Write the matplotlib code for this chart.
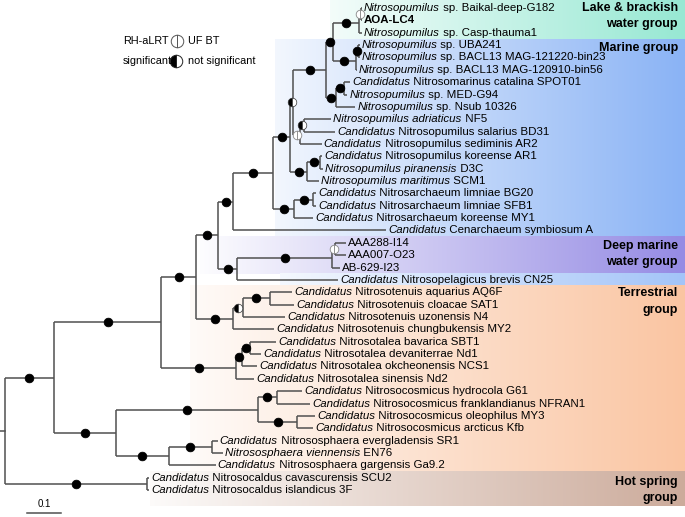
import matplotlib
matplotlib.use("Agg")
import matplotlib.pyplot as plt
import numpy as np
from matplotlib.colors import to_rgb

# ---------------- data ----------------
leaf_italic = [
    "Nitrosopumilus", "", "Nitrosopumilus", "Nitrosopumilus", "Nitrosopumilus",
    "Nitrosopumilus", "Candidatus", "Nitrosopumilus", "Nitrosopumilus",
    "Nitrosopumilus adriaticus", "Candidatus", "Candidatus", "Candidatus",
    "Nitrosopumilus piranensis", "Nitrosopumilus maritimus", "Candidatus",
    "Candidatus", "Candidatus", "Candidatus", "", "", "", "Candidatus",
    "Candidatus", "Candidatus", "Candidatus", "Candidatus", "Candidatus",
    "Candidatus", "Candidatus", "Candidatus", "Candidatus", "Candidatus",
    "Candidatus", "Candidatus", "Candidatus", "Nitrososphaera viennensis",
    "Candidatus", "Candidatus", "Candidatus",
]
leaf_plain = [
    " sp. Baikal-deep-G182", "AOA-LC4", " sp. Casp-thauma1", " sp. UBA241",
    " sp. BACL13 MAG-121220-bin23", " sp. BACL13 MAG-120910-bin56",
    " Nitrosomarinus catalina SPOT01", " sp. MED-G94", " sp. Nsub 10326",
    " NF5", " Nitrosopumilus salarius BD31", " Nitrosopumilus sediminis AR2",
    " Nitrosopumilus koreense AR1", " D3C", " SCM1",
    " Nitrosarchaeum limniae BG20", " Nitrosarchaeum limniae SFB1",
    " Nitrosarchaeum koreense MY1", " Cenarchaeum symbiosum A",
    "AAA288-I14", "AAA007-O23", "AB-629-I23", " Nitrosopelagicus brevis CN25",
    " Nitrosotenuis aquarius AQ6F", " Nitrosotenuis cloacae SAT1",
    " Nitrosotenuis uzonensis N4", " Nitrosotenuis chungbukensis MY2",
    " Nitrosotalea bavarica SBT1", " Nitrosotalea devaniterrae Nd1",
    " Nitrosotalea okcheonensis NCS1", " Nitrosotalea sinensis Nd2",
    " Nitrosocosmicus hydrocola G61", " Nitrosocosmicus franklandianus NFRAN1",
    " Nitrosocosmicus oleophilus MY3", " Nitrosocosmicus arcticus Kfb",
    " Nitrososphaera evergladensis SR1", " EN76",
    " Nitrososphaera gargensis Ga9.2", " Nitrosocaldus cavascurensis SCU2",
    " Nitrosocaldus islandicus 3F",
]
leaf_bold = [1]

# tree (leaf index:branch length), support codes:
# f = both significant, h = RH-aLRT only, o = neither
L2 = "(0:0.003,1:0.003)o:0.006"
L1 = f"({L2},2:0.009)f:0.074"
U2 = "(3:0.006,4:0.006)f:0.006"
U1 = f"({U2},5:0.003)f:0.065"
Hn = f"({L1},{U1})f:0.021"
C2 = "(6:0.018,7:0.009)f:0.024"
C1 = f"({C2},8:0.056)f:0.029"
G = f"({Hn},{C1})f:0.097"
S2 = "(9:0.082,10:0.094)h:0.009"
S1 = f"({S2},11:0.062)o:0.021"
Q = f"({G},{S1})h:0.009"
K2 = "(12:0.006,13:0.009)f:0.038"
K1 = f"({K2},14:0.035)f:0.050"
P = f"({Q},{K1})f:0.050"
N2 = "(15:0.009,16:0.009)f:0.056"
N1 = f"({N2},17:0.056)f:0.062"
F = f"({P},{N1})f:0.118"
E = f"({F},18:0.450)f:0.044"
DM3 = "(19:0.032,20:0.032)o:0.009"
DM2 = f"({DM3},21:0.024)f:0.279"
DM1 = f"({DM2},22:0.297)f:0.056"
D = f"({E},{DM1})f:0.065"
T3 = "(23:0.065,24:0.071)f:0.079"
T2 = f"({T3},25:0.124)h:0.029"
T1 = f"({T2},26:0.121)f:0.109"
C = f"({D},{T1})f:0.103"
TA3 = "(27:0.076,28:0.032)f:0.024"
TA2 = f"({TA3},29:0.044)f:0.018"
TA1 = f"({TA2},30:0.053)f:0.221"
B = f"({C},{TA1})f:0.315"
NC2 = "(31:0.074,32:0.097)f:0.056"
NC3 = "(33:0.053,34:0.047)f:0.115"
NC1 = f"({NC2},{NC3})f:0.418"
NS2 = "(35:0.018,36:0.032)f:0.126"
NS1 = f"({NS2},37:0.138)f:0.156"
Z1 = f"({NC1},{NS1})f:0.182"
A = f"({B},{Z1})f:0.144"
HS = "(38:0.006,39:0.006)f:0.418"
newick = f"({A},{HS});"

group_names = ["Lake & brackish\nwater group", "Marine group", "Deep marine\nwater group",
               "", "Terrestrial\ngroup", "Hot spring\ngroup"]
group_first = [0, 3, 19, 22, 23, 38]
group_last = [2, 18, 21, 22, 37, 39]
group_colors = ["#97e8d3", "#8ab3f5", "#958be4", "#a3c4f8", "#fac5a2", "#ccab9b"]

scale_value = 0.1

# ---------------- parse newick ----------------
def parse(s):
    pos = [0]
    def node():
        n = {"children": [], "name": "", "len": 0.0}
        if s[pos[0]] == "(":
            pos[0] += 1
            while True:
                n["children"].append(node())
                ch = s[pos[0]]
                pos[0] += 1
                if ch == ",":
                    continue
                if ch == ")":
                    break
                raise ValueError("bad newick at %d" % pos[0])
        st = pos[0]
        while s[pos[0]] not in ":,();":
            pos[0] += 1
        n["name"] = s[st:pos[0]]
        if s[pos[0]] == ":":
            pos[0] += 1
            st = pos[0]
            while s[pos[0]] not in ",();":
                pos[0] += 1
            n["len"] = float(s[st:pos[0]])
        return n
    return node()

root = parse(newick)

def layout(n, x0):
    n["x"] = x0 + n["len"]
    if n["children"]:
        for c in n["children"]:
            layout(c, n["x"])
        n["y"] = 0.5 * (n["children"][0]["y"] + n["children"][-1]["y"])
    else:
        n["y"] = float(int(n["name"]))
layout(root, 0.0)

# ---------------- figure ----------------
W, H = 685, 517
fig = plt.figure(figsize=(W / 100, H / 100), dpi=100)
ax = fig.add_axes([0, 0, 1, 1])
ppu = 340.0                # pixels per substitution unit
ly = 12.36                 # pixels per leaf
ax.set_xlim(-5 / ppu, 680 / ppu)
ax.set_ylim((H - 8) / ly, -8 / ly)
ax.axis("off")

def fx(p):   # figure pixel -> data x
    return (p - 5) / ppu
def fy(p):   # figure pixel -> data y
    return (p - 8) / ly

FONT = "Liberation Sans"
lc = "#505050"

# background gradients (rectangle start, gradient start) in figure pixels
rect_start = [330, 275, 200, 280, 190, 150]
grad_start = [285, 225, 190, 225, 150, 120]
xmax_px = 685
for c, r0, g0, a, b in zip(group_colors, rect_start, grad_start, group_first, group_last):
    rgb = np.array(to_rgb(c))
    xs = np.linspace(r0, xmax_px, 300)
    t = np.clip((xs - g0) / (xmax_px - g0), 0, 1)[None, :, None]
    img = (1 - t) * np.ones(3) + t * rgb
    y1 = b + 0.5 if b < 39 else fy(506)
    y0 = a - 0.5 if a > 0 else fy(0)
    ax.imshow(img, extent=[fx(r0), fx(xmax_px), y1, y0], aspect="auto",
              interpolation="bilinear", zorder=0)

# branches
def draw(n, parent_x):
    if parent_x is not None:
        ax.plot([parent_x, n["x"]], [n["y"], n["y"]], color=lc, lw=1.1,
                solid_capstyle="butt", zorder=2)
    if n["children"]:
        ys = [c["y"] for c in n["children"]]
        ax.plot([n["x"], n["x"]], [min(ys), max(ys)], color=lc, lw=1.1,
                solid_capstyle="butt", zorder=2)
        for c in n["children"]:
            draw(c, n["x"])
        if parent_x is not None and n["name"]:
            xm = 0.5 * (parent_x + n["x"])
            code = n["name"]
            if code == "f":
                ax.plot(xm, n["y"], "o", ms=6.2, mfc="black", mec="black",
                        mew=0.6, zorder=3)
            elif code == "h":
                ax.plot(xm, n["y"], "o", ms=6.2, fillstyle="left", mfc="black",
                        mfcalt="white", mec="#333333", mew=0.5, zorder=3)
            else:
                ax.plot(xm, n["y"], "o", ms=6.2, fillstyle="left", mfc="white",
                        mfcalt="white", mec="#888888", mew=0.6, zorder=3)
draw(root, None)
ax.plot([fx(0), 0], [root["y"], root["y"]], color=lc, lw=1.1, zorder=2)

# leaf labels
leaves = []
def collect(n):
    if n["children"]:
        for c in n["children"]:
            collect(c)
    else:
        leaves.append(n)
collect(root)
fig.canvas.draw()
renderer = fig.canvas.get_renderer()
inv = ax.transData.inverted()
FS = 8.25
for n in leaves:
    i = int(n["name"])
    x = n["x"] + 2 / ppu
    it = leaf_italic[i]
    pl = leaf_plain[i]
    if it:
        t1 = ax.text(x, i, it, fontsize=FS, family=FONT, style="italic",
                     va="center", ha="left", zorder=4)
        bb = t1.get_window_extent(renderer)
        x = inv.transform((bb.x1, 0))[0]
    ax.text(x, i, pl, fontsize=FS, family=FONT, va="center", ha="left",
            fontweight="bold" if i in leaf_bold else "normal", zorder=4)

# group labels (pixel rows of each line)
label_rows = [[8, 24], [48], [246, 262], [], [293, 310], [482, 498]]
for g, rows in zip(group_names, label_rows):
    if not g:
        continue
    for line, yy in zip(g.split("\n"), rows):
        ax.text(fx(678), fy(yy), line, fontsize=9.0, family=FONT, fontweight="bold",
                ha="right", va="center", zorder=4)

# legend
ax.text(fx(123), fy(41), "RH-aLRT", fontsize=7.8, family=FONT, va="center", ha="left")
ax.plot(fx(177), fy(41), "o", ms=9, fillstyle="left", mfc="white", mfcalt="white",
        mec="#555555", mew=0.7)
ax.text(fx(188), fy(41), "UF BT", fontsize=7.8, family=FONT, va="center", ha="left")
ax.text(fx(123), fy(61), "significant", fontsize=7.8, family=FONT, va="center", ha="left")
ax.plot(fx(176), fy(61), "o", ms=9, fillstyle="left", mfc="black", mfcalt="white",
        mec="#222222", mew=0.7)
ax.text(fx(188), fy(61), "not significant", fontsize=7.8, family=FONT, va="center", ha="left")

# scale bar
ax.plot([fx(27), fx(27) + scale_value], [fy(513), fy(513)], color=lc, lw=1.1)
ax.text(fx(27) + scale_value / 2, fy(504), "0.1", fontsize=7, family=FONT,
        ha="center", va="center")

fig.savefig("out.png", dpi=100)
